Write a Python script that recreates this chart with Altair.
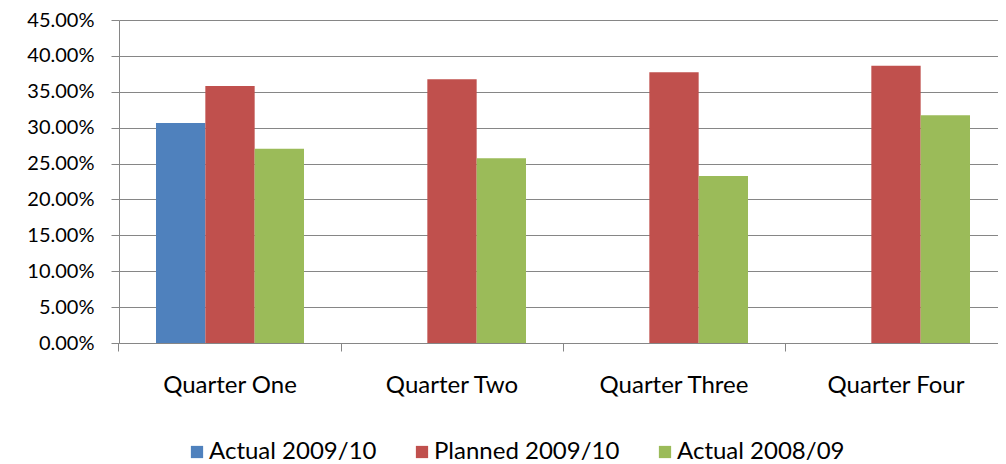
import altair as alt
import pandas as pd

quarters = ["Quarter One", "Quarter Two", "Quarter Three", "Quarter Four"]
series = ["Actual 2009/10", "Planned 2009/10", "Actual 2008/09"]
actual_0910 = [0.3066, None, None, None]
planned_0910 = [0.3581, 0.3674, 0.3772, 0.3864]
actual_0809 = [0.2708, 0.2575, 0.2328, 0.3173]
colors = ["#4F81BD", "#C0504D", "#9BBB59"]
y_ticks = [0, 0.05, 0.10, 0.15, 0.20, 0.25, 0.30, 0.35, 0.40, 0.45]

rows = []
for s, vals in zip(series, [actual_0910, planned_0910, actual_0809]):
    for q, v in zip(quarters, vals):
        if v is not None:
            rows.append({"quarter": q, "series": s, "value": v})
df = pd.DataFrame(rows)

FONT = "Lato"

chart = alt.Chart(df).mark_bar().encode(
    x=alt.X("quarter:N", sort=quarters, title=None,
            scale=alt.Scale(paddingInner=1/3, paddingOuter=1/6, range=[0, 888]),
            axis=alt.Axis(labelAngle=0, labelFontSize=24, labelFont=FONT, labelColor="#000000",
                          labelPadding=22, domainColor="#868686", tickColor="#868686",
                          tickSize=8, bandPosition=-0.25, grid=False)),
    xOffset=alt.XOffset("series:N", sort=series,
                        scale=alt.Scale(domain=series, paddingInner=0, paddingOuter=0)),
    y=alt.Y("value:Q", title=None,
            scale=alt.Scale(domain=[0, 0.45], nice=False),
            axis=alt.Axis(values=y_ticks, format=".2%", labelFontSize=20, labelFont=FONT,
                          labelColor="#000000", labelPadding=17, tickSize=8,
                          tickColor="#868686", domainColor="#868686",
                          gridColor="#868686", gridWidth=1.2)),
    color=alt.Color("series:N", sort=series, title=None,
                    scale=alt.Scale(domain=series, range=colors),
                    legend=alt.Legend(orient="none", direction="horizontal",
                                      legendX=66, legendY=420,
                                      symbolType="square", symbolSize=150,
                                      symbolStrokeWidth=0, labelLimit=400,
                                      labelFontSize=24, labelFont=FONT, labelColor="#000000",
                                      columnPadding=33, labelOffset=0)),
).properties(
    width=879, height=323,
    autosize=alt.AutoSizeParams(type="none"),
    padding={"left": 111, "top": 12, "right": 0, "bottom": 121},
).configure_view(stroke=None)

chart.save("out.html", embed_options={"renderer": "svg", "actions": False})
